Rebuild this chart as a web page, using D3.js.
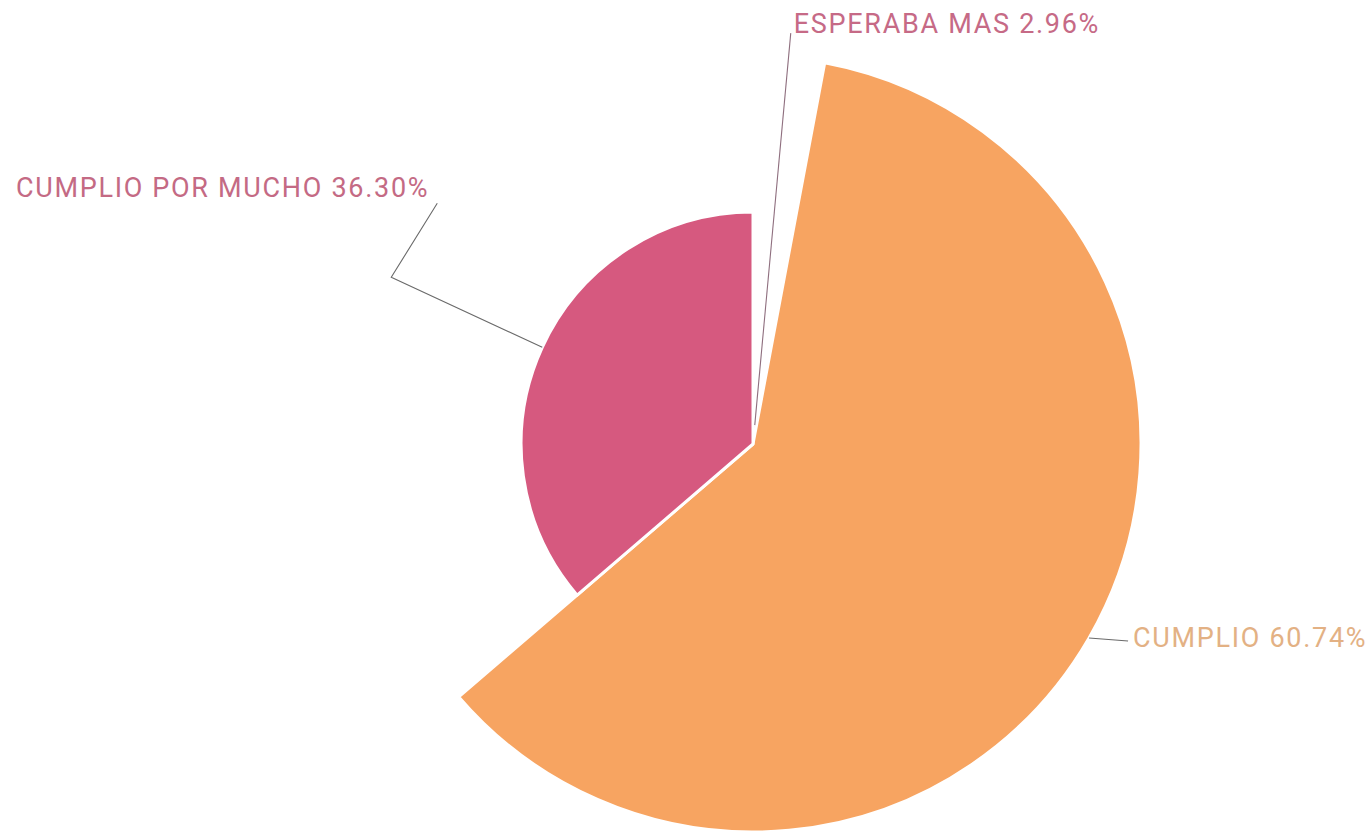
<!DOCTYPE html>
<html>
<head>
<meta charset="utf-8">
<script src="https://cdn.jsdelivr.net/npm/d3@7/dist/d3.min.js"></script>
<style>
  html, body { margin: 0; padding: 0; background: #fff; }
  svg { display: block; }
  .lbl { font-family: Roboto, "Noto Sans", sans-serif; letter-spacing: 1.7px; }
</style>
</head>
<body>
<svg id="chart" width="1368" height="835"></svg>
<script>
// data
const categories = ['ESPERABA MAS', 'CUMPLIO', 'CUMPLIO POR MUCHO'];
const percents = [2.96, 60.74, 36.30];
const sliceColors = ['#d2648a', '#f7a461', '#d6597f'];
const labelColors = ['#c66a86', '#e3b184', '#c46a84'];

const W = 1368, H = 835;
const cx = 753, cy = 444, rMax = 388;

const svg = d3.select('#chart');
const g = svg.append('g').attr('transform', `translate(${cx},${cy})`);

const rows = categories.map((c, i) => ({ name: c, value: percents[i], color: sliceColors[i], text: labelColors[i] }));

// rose pie: angle by share, radius by value
const pie = d3.pie().sort(null).value(d => d.value)
    .startAngle(0).endAngle(2 * Math.PI);
const rScale = d3.scaleLinear().domain([0, d3.max(percents)]).range([0, rMax]);

const arcs = pie(rows);
const arc = d3.arc().innerRadius(0).outerRadius(d => rScale(d.data.value));

g.selectAll('path.slice').data(arcs).enter().append('path')
    .attr('class', 'slice')
    .attr('d', arc)
    .attr('fill', d => d.data.color)
    .attr('stroke', '#fff')
    .attr('stroke-width', 3)
    .attr('stroke-linejoin', 'round');

// label line layout: offsets from the slice edge point, text anchor
const labelLayout = [
    { legs: [[36, -392]], dx: 3, dy: 0, anchor: 'start' },
    { legs: [[39, 3]], dx: 5, dy: 6, anchor: 'start' },
    { legs: [[-151, -70], [-105, -144]], dx: -8, dy: -6, anchor: 'end' }
];

function edgePoint(d) {
    const a = (d.startAngle + d.endAngle) / 2;
    const r = rScale(d.data.value);
    return [Math.sin(a) * r, -Math.cos(a) * r];
}

arcs.forEach((d, i) => {
    const p0 = edgePoint(d);
    const lay = labelLayout[i];
    const pts = [p0].concat(lay.legs.map(o => [p0[0] + o[0], p0[1] + o[1]]));
    g.append('path')
        .attr('d', d3.line()(pts))
        .attr('fill', 'none')
        .attr('stroke', i === 0 ? '#8e6e7e' : '#6a6a6a')
        .attr('stroke-width', 1.1);
    const end = pts[pts.length - 1];
    g.append('text')
        .attr('class', 'lbl')
        .attr('x', end[0] + lay.dx)
        .attr('y', end[1] + lay.dy)
        .attr('text-anchor', lay.anchor)
        .attr('font-size', 27)
        .attr('fill', d.data.text)
        .text(`${d.data.name} ${d.data.value.toFixed(2)}%`);
});
</script>
</body>
</html>
